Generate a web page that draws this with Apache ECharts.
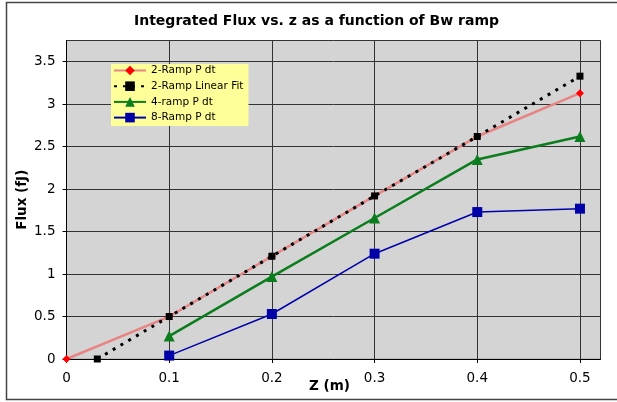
<!DOCTYPE html>
<html><head><meta charset="utf-8">
<script src="https://cdn.jsdelivr.net/npm/echarts@6/dist/echarts.min.js"></script>
<style>html,body{margin:0;padding:0;background:#fff}#c{width:617px;height:402px}</style>
</head><body><div id="c"></div>
<script>
var titleText = 'Integrated Flux vs. z as a function of Bw ramp';
var xName = 'Z (m)';
var yName = 'Flux (fJ)';
var seriesNames = ['2-Ramp P dt', '2-Ramp Linear Fit', '4-ramp P dt', '8-Ramp P dt'];
var zRamp2 = [0, 0.1, 0.2, 0.3, 0.4, 0.5];
var ramp2 = [0, 0.5, 1.21, 1.92, 2.62, 3.13];
var zFit = [0.03, 0.1, 0.2, 0.3, 0.4, 0.5];
var fit2 = [0, 0.5, 1.21, 1.92, 2.62, 3.33];
var zRamp = [0.1, 0.2, 0.3, 0.4, 0.5];
var ramp4 = [0.27, 0.97, 1.66, 2.35, 2.62];
var ramp8 = [0.04, 0.53, 1.24, 1.73, 1.77];
var xTicks = [0, 0.1, 0.2, 0.3, 0.4, 0.5];
var yTicks = [0, 0.5, 1, 1.5, 2, 2.5, 3, 3.5];

function pairs(xs, ys) { return xs.map(function (x, i) { return [x, ys[i]]; }); }

var FONT = 'DejaVu Sans';
var chart = echarts.init(document.getElementById('c'), null, {renderer: 'canvas'});
chart.setOption({
  animation: false,
  textStyle: {fontFamily: FONT},
  title: {
    text: titleText, left: 129, top: 9,
    textStyle: {fontFamily: FONT, fontSize: 14, fontWeight: 'bold', color: '#000'}
  },
  graphic: [{
    type: 'polyline', silent: true, z: -1,
    shape: {points: [[700, 2.5], [6.5, 2.5], [6.5, 399.5], [700, 399.5]]},
    style: {fill: 'none', stroke: '#444', lineWidth: 1.5}
  }],
  legend: {
    orient: 'vertical', left: 111, top: 64,
    backgroundColor: '#ffff99',
    padding: [1, 5, 3, 2],
    itemWidth: 32, itemHeight: 12, itemGap: 4.7,
    textStyle: {fontFamily: FONT, fontSize: 10.5, color: '#000'},
    data: seriesNames
  },
  grid: {
    left: 66.5, top: 40.5, right: 16.5, bottom: 43,
    containLabel: false, outerBoundsMode: 'none',
    show: true, backgroundColor: '#d4d4d4', borderColor: '#a0a0a0', borderWidth: 1
  },
  xAxis: {
    type: 'value', min: xTicks[0], max: 0.52, interval: 0.1,
    name: xName, nameLocation: 'middle', nameGap: 20, nameMoveOverlap: false,
    nameTextStyle: {fontFamily: FONT, fontSize: 13.5, fontWeight: 'bold', color: '#000', padding: [0, 8, 0, 0]},
    axisLine: {show: true, lineStyle: {color: '#000', width: 1}},
    axisTick: {show: true, length: 4, lineStyle: {color: '#000'}},
    axisLabel: {showMaxLabel: false, margin: 12, fontFamily: FONT, fontSize: 13.5, color: '#000',
      formatter: function (v) { return xTicks.indexOf(Math.round(v * 10) / 10) >= 0 ? String(Math.round(v * 10) / 10) : ''; }},
    splitLine: {show: true, lineStyle: {color: '#333', width: 1}}
  },
  yAxis: {
    type: 'value', min: yTicks[0], max: 3.75, interval: 0.5,
    name: yName, nameLocation: 'middle', nameGap: 37, nameRotate: 90, nameMoveOverlap: false,
    nameTextStyle: {fontFamily: FONT, fontSize: 13.5, fontWeight: 'bold', color: '#000'},
    axisLine: {show: true, lineStyle: {color: '#000', width: 1}},
    axisTick: {show: true, length: 4, lineStyle: {color: '#000'}},
    axisLabel: {showMaxLabel: false, margin: 11, fontFamily: FONT, fontSize: 13.5, color: '#000'},
    splitLine: {show: true, lineStyle: {color: '#333', width: 1}}
  },
  series: [
    {
      name: seriesNames[0], type: 'line', data: pairs(zRamp2, ramp2),
      symbol: 'diamond', symbolSize: 8, showAllSymbol: true,
      lineStyle: {color: '#e88484', width: 2.5},
      itemStyle: {color: '#ff0000', borderWidth: 0},
      color: '#ff0000'
    },
    {
      name: seriesNames[1], type: 'line', data: pairs(zFit, fit2),
      symbol: 'rect', symbolSize: 7,
      lineStyle: {color: '#000', width: 3, type: [3, 6], cap: 'butt'},
      itemStyle: {color: '#000', borderWidth: 0},
      color: '#000'
    },
    {
      name: seriesNames[2], type: 'line', data: pairs(zRamp, ramp4),
      symbol: 'triangle', symbolSize: 11,
      lineStyle: {color: '#0b7d1c', width: 2.5},
      itemStyle: {color: '#0b7d1c', borderWidth: 0},
      color: '#0b7d1c'
    },
    {
      name: seriesNames[3], type: 'line', data: pairs(zRamp, ramp8),
      symbol: 'rect', symbolSize: 10,
      lineStyle: {color: '#0000a8', width: 1.5},
      itemStyle: {color: '#0000a8', borderWidth: 0},
      color: '#0000a8'
    }
  ]
});
</script></body></html>
